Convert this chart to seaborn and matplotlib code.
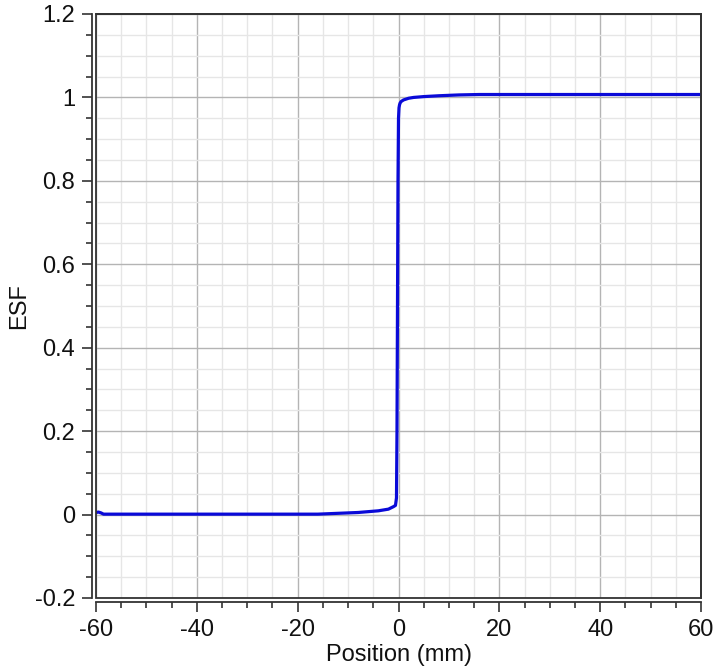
import numpy as np
import pandas as pd
import matplotlib
matplotlib.use("Agg")
import matplotlib.pyplot as plt
import matplotlib.patches as mpatches
from matplotlib.ticker import MultipleLocator, FuncFormatter
import seaborn as sns

# Data
position_mm = [-60, -59.5, -59, -58.5, -40, -20, -16, -14, -12, -10, -8, -6, -4, -3, -2,
               -1.5, -1, -0.6, -0.4, -0.3, -0.2, -0.1, 0.0, 0.1, 0.2, 0.3, 0.5,
               1, 2, 3, 5, 8, 12, 16, 20, 30, 45, 60]
esf = [0.005, 0.006, 0.004, 0.001, 0.001, 0.001, 0.001, 0.002, 0.003, 0.004, 0.005, 0.007,
       0.009, 0.011, 0.013, 0.016, 0.019, 0.022, 0.04, 0.2, 0.5, 0.8, 0.95, 0.975, 0.982,
       0.986, 0.99, 0.994, 0.998, 1.0, 1.002, 1.004, 1.006, 1.007, 1.007, 1.007, 1.007, 1.007]

df = pd.DataFrame({"Position (mm)": position_mm, "ESF": esf})

sns.set_style("white")
plt.rcParams["font.family"] = ["Liberation Sans", "DejaVu Sans"]
plt.rcParams["axes.unicode_minus"] = False

fig = plt.figure(figsize=(7.14, 6.71), dpi=100)
ax = fig.add_axes([96 / 714, 1 - 598 / 671, 605 / 714, 584 / 671])

sns.lineplot(data=df, x="Position (mm)", y="ESF", ax=ax, color="#0a0ad8",
             linewidth=2.3, sort=False, zorder=5)

ax.set_xlim(-60, 60)
ax.set_ylim(-0.2, 1.2)
ax.xaxis.set_major_locator(MultipleLocator(20))
ax.xaxis.set_minor_locator(MultipleLocator(5))
ax.yaxis.set_major_locator(MultipleLocator(0.2))
ax.yaxis.set_minor_locator(MultipleLocator(0.05))
fmt = FuncFormatter(lambda v, p: f"{v:g}" if abs(v) > 1e-9 else "0")
ax.xaxis.set_major_formatter(fmt)
ax.yaxis.set_major_formatter(fmt)

ax.grid(which="major", color="#b4b4b4", linewidth=1.0)
ax.grid(which="minor", color="#e6e6e6", linewidth=1.0)
ax.set_axisbelow(True)

for s in ["left", "bottom"]:
    ax.spines[s].set_position(("outward", 3))
    ax.spines[s].set_color("#333333")
    ax.spines[s].set_linewidth(1.3)
for s in ["top", "right"]:
    ax.spines[s].set_color("#333333")
    ax.spines[s].set_linewidth(1.3)
frame = mpatches.Rectangle((0, 0), 1, 1, transform=ax.transAxes, fill=False,
                           edgecolor="#333333", linewidth=1.3, clip_on=False, zorder=6)
ax.add_patch(frame)

ax.tick_params(which="major", direction="out", length=7, width=1.2, color="#333333",
               labelsize=17, labelcolor="#111111", bottom=True, left=True)
ax.tick_params(axis="x", which="major", pad=5)
ax.tick_params(axis="y", which="major", pad=5)
ax.tick_params(which="minor", direction="out", length=4, width=1.2, color="#333333",
               bottom=True, left=True)

ax.set_xlabel("Position (mm)", fontsize=17, color="#111111", labelpad=2)
ax.set_ylabel("ESF", fontsize=17, color="#111111", labelpad=3)

fig.savefig("out.png", dpi=100)
